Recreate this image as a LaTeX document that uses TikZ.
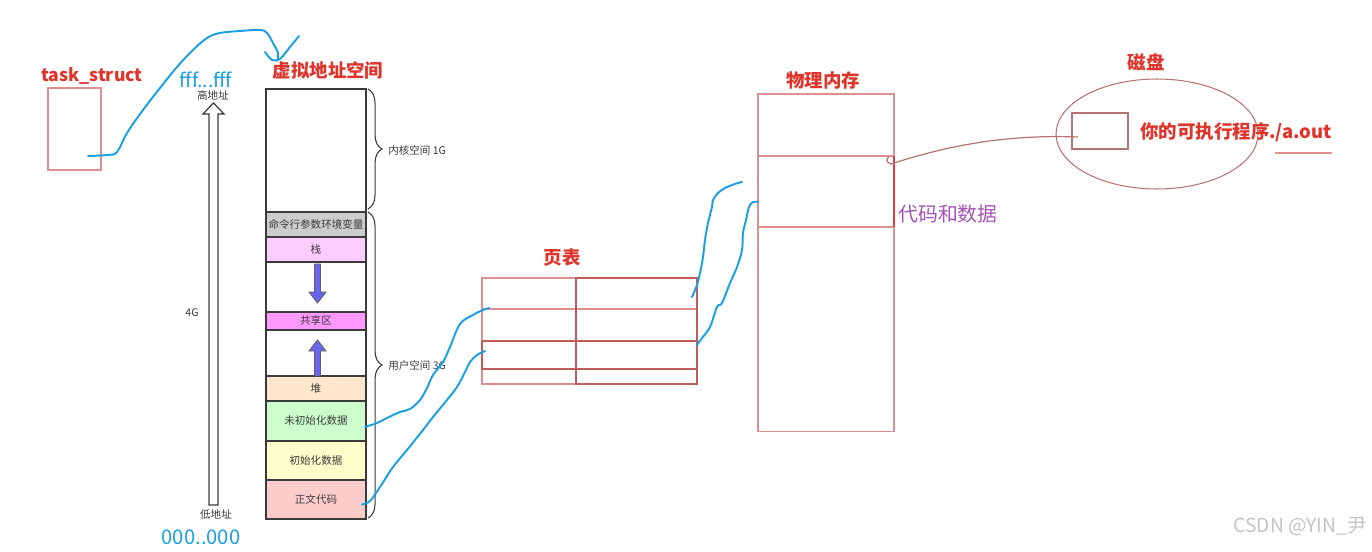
\documentclass[tikz,border=0pt]{standalone}
\usepackage{fontspec}
\setmainfont{Noto Sans CJK SC}
\usetikzlibrary{positioning,calc,shapes.geometric,decorations.pathreplacing}
\definecolor{Ink}{HTML}{3A3A3A}
\definecolor{Title}{HTML}{E0342A}
\definecolor{Frame}{HTML}{DC9090}
\definecolor{FrameDark}{HTML}{C25B5B}
\definecolor{Hot}{HTML}{E23B3B}
\definecolor{Hand}{HTML}{1A9FE3}
\definecolor{Purple}{HTML}{A452B8}
\definecolor{DiskLine}{HTML}{B57474}
\definecolor{ArgGray}{HTML}{CCCCCC}
\definecolor{StackPink}{HTML}{FFCCFF}
\definecolor{ShmPink}{HTML}{FF99FF}
\definecolor{HeapPeach}{HTML}{FFE6CC}
\definecolor{BssGreen}{HTML}{CCFFCC}
\definecolor{DataYellow}{HTML}{FFFFCC}
\definecolor{TextRose}{HTML}{FFCCCC}
\definecolor{GrowBlue}{HTML}{6666EE}
\definecolor{Mark}{HTML}{C4C4C4}
\tikzset{
  title/.style={font=\bfseries\fontsize{10.5}{12}\selectfont,text=Title,inner sep=0},
  tinylbl/.style={font=\fontsize{6}{7}\selectfont,text=Ink,inner sep=0},
  seg/.style={draw=Ink,line width=1pt,minimum width=2cm,inner sep=0,outer sep=0,anchor=north,tinylbl},
  hand/.style={draw=Hand,line width=1.1pt,line cap=round,line join=round},
  thinbox/.style={draw=Frame,line width=0.6pt,inner sep=0,outer sep=0},
  growarrow/.style={fill=GrowBlue,draw=Ink!80,line width=0.5pt},
  addr/.style={font=\fontsize{11}{12}\selectfont,text=Hand,inner sep=0},
  bracemark/.style={draw=Ink,line width=0.6pt,decorate,decoration={brace,amplitude=8pt}}
}
\begin{document}
\begin{tikzpicture}[x=0.02cm,y=-0.02cm]
  \useasboundingbox (0,0) rectangle (1372,551);
  % task_struct
  \node[title,font=\bfseries\fontsize{10}{12}\selectfont] (tstitle) at (92,76) {task\_struct};
  \node[thinbox,minimum width=1.06cm,minimum height=1.64cm,anchor=north west] (task) at (48,88) {};
  % address arrow
  \draw[Ink,line width=0.7pt,fill=white] (209,505) -- (209,114) -- (203,114) -- (213.5,103) -- (224,114) -- (218,114) -- (218,505) -- cycle;
  \node[addr] (top) at (206,80) {fff...fff};
  \node[tinylbl] (hi) at (213,95) {高地址};
  \node[tinylbl] (four) at (192,313) {4G};
  \node[tinylbl] (lo) at (216,515) {低地址};
  \node[addr,font=\fontsize{11.5}{13}\selectfont] (bottom) at (201,537) {000..000};
  % virtual address space
  \node[title] (vastitle) at (328,70) {虚拟地址空间};
  \node[seg,fill=white,minimum height=2.46cm] (kernel) at (316,89) {};
  \node[seg,fill=ArgGray,minimum height=0.5cm] (argenv) at (kernel.south) {命令行参数环境变量};
  \node[seg,fill=StackPink,minimum height=0.5cm] (stack) at (argenv.south) {栈};
  \node[seg,fill=white,minimum height=1cm] (gapdown) at (stack.south) {};
  \node[seg,fill=ShmPink,minimum height=0.36cm] (shm) at (gapdown.south) {共享区};
  \node[seg,fill=white,minimum height=0.92cm] (gapup) at (shm.south) {};
  \node[seg,fill=HeapPeach,minimum height=0.5cm] (heap) at (gapup.south) {堆};
  \node[seg,fill=BssGreen,minimum height=0.8cm] (bss) at (heap.south) {未初始化数据};
  \node[seg,fill=DataYellow,minimum height=0.78cm] (data) at (bss.south) {初始化数据};
  \node[seg,fill=TextRose,minimum height=0.78cm] (text) at (data.south) {正文代码};
  \draw[growarrow] (314.5,264) -- (320.5,264) -- (320.5,292) -- (326,292) -- (317.5,303) -- (309,292) -- (314.5,292) -- cycle;
  \draw[growarrow] (314.5,376) -- (314.5,351) -- (309,351) -- (317.5,340) -- (326,351) -- (320.5,351) -- (320.5,376) -- cycle;
  \draw[bracemark] (368,89) -- (368,209);
  \node[tinylbl,anchor=west] (kernlbl) at (388,150) {内核空间 1G};
  \draw[bracemark] (368,212) -- (368,518);
  \node[tinylbl,anchor=west] (userlbl) at (388,365) {用户空间 3G};
  % page table
  \node[title] (pttitle) at (562,258) {页表};
  \node[thinbox,minimum width=4.3cm,minimum height=2.12cm,anchor=north west] (pt) at (482,278) {};
  \draw[Frame,line width=0.6pt] (482,309) -- (697,309) (482,369) -- (697,369);
  \draw[FrameDark,line width=0.7pt] (576,278) rectangle (697,384);
  \draw[FrameDark,line width=0.7pt] (482,341) rectangle (697,369);
  % physical memory
  \node[title] (memtitle) at (823,80) {物理内存};
  \node[thinbox,minimum width=2.72cm,minimum height=6.76cm,anchor=north west] (mem) at (758,94) {};
  \draw[Frame,line width=0.6pt] (758,156) -- (894,156) (758,227) -- (894,227);
  \draw[Hot,line width=0.9pt] (894,156) -- (894,227);
  \node[font=\fontsize{11.3}{13}\selectfont,text=Purple,inner sep=0,anchor=west] (codedata) at (898,214) {代码和数据};
  % disk
  \node[title] (disktitle) at (1146,62) {磁盘};
  \node[ellipse,draw=DiskLine,line width=0.6pt,minimum width=4.04cm,minimum height=2.2cm,inner sep=0] (disk) at (1157,134) {};
  \node[thinbox,draw=DiskLine,minimum width=1.12cm,minimum height=0.72cm,anchor=north west] (exe) at (1072,113) {};
  \node[title,anchor=west] (exename) at (1140,132) {你的可执行程序./a.out};
  \draw[Frame,line width=0.6pt] (1275,153) -- (1332,153);
  % hand drawn links
  \coordinate (tsout) at ($(task.south east)+(-13,-14)$);
  \coordinate (vasin) at ($(vastitle.north west)+(5,0)$);
  \draw[hand] plot[smooth,tension=0.6] coordinates {(tsout) (107,155) (117,152) (127,133) (143,110) (160,88) (177,67) (193,50) (207,38) (220,33) (240,31) (260,30) (267,33) (273,43) (278,53) (vasin)};
  \draw[hand] plot[smooth,tension=0.5] coordinates {(265,52) (272,60) (280,59) (290,47) (299,36)};
  \coordinate (bssout) at ($(bss.east)+(-1,6)$);
  \coordinate (ptrow2) at ($(pt.north west)+(7,30)$);
  \draw[hand] plot[smooth,tension=0.6] coordinates {(bssout) (377,423) (387,418) (400,412) (410,409) (420,400) (427,388) (433,375) (443,362) (450,347) (460,324) (473,315) (483,310) (ptrow2)};
  \coordinate (textout) at ($(text.east)+(-4,5)$);
  \coordinate (ptrow3) at ($(pt.north west)+(3,73)$);
  \draw[hand] plot[smooth,tension=0.6] coordinates {(textout) (370,501) (380,487) (393,467) (407,450) (423,430) (433,417) (447,400) (457,387) (465,372) (470,362) (477,355) (ptrow3)};
  \coordinate (ptout1) at ($(pt.north east)+(-5,19)$);
  \coordinate (memin1) at ($(mem.north west)+(-16,88)$);
  \draw[hand] plot[smooth,tension=0.6] coordinates {(ptout1) (697,285) (700,273) (703,257) (705,240) (708,223) (712,207) (713,200) (718,193) (725,188) (732,185) (738,183) (memin1)};
  \coordinate (ptout2) at ($(pt.north east)+(0,67)$);
  \coordinate (memin2) at ($(mem.north west)+(0,108)$);
  \draw[hand] plot[smooth,tension=0.6] coordinates {(ptout2) (702,338) (710,327) (717,307) (722,303) (730,283) (737,267) (742,250) (743,233) (746,220) (749,207) (753,202) (memin2)};
  \coordinate (exein) at ($(exe.west)+(6,6)$);
  \coordinate (memhook) at ($(mem.north east)+(-3,70)$);
  \draw[DiskLine,line width=0.7pt] (exein) .. controls (1000,134) and (940,148) .. (memhook);
  \draw[DiskLine,line width=0.7pt] (memhook) .. controls (886,163) and (886,158) .. (889,157);
  % watermark
  \node[font=\fontsize{11}{13}\selectfont,text=Mark,anchor=east,inner sep=0] (mark) at (1367,527) {CSDN @YIN\_尹};
\end{tikzpicture}
\end{document}
